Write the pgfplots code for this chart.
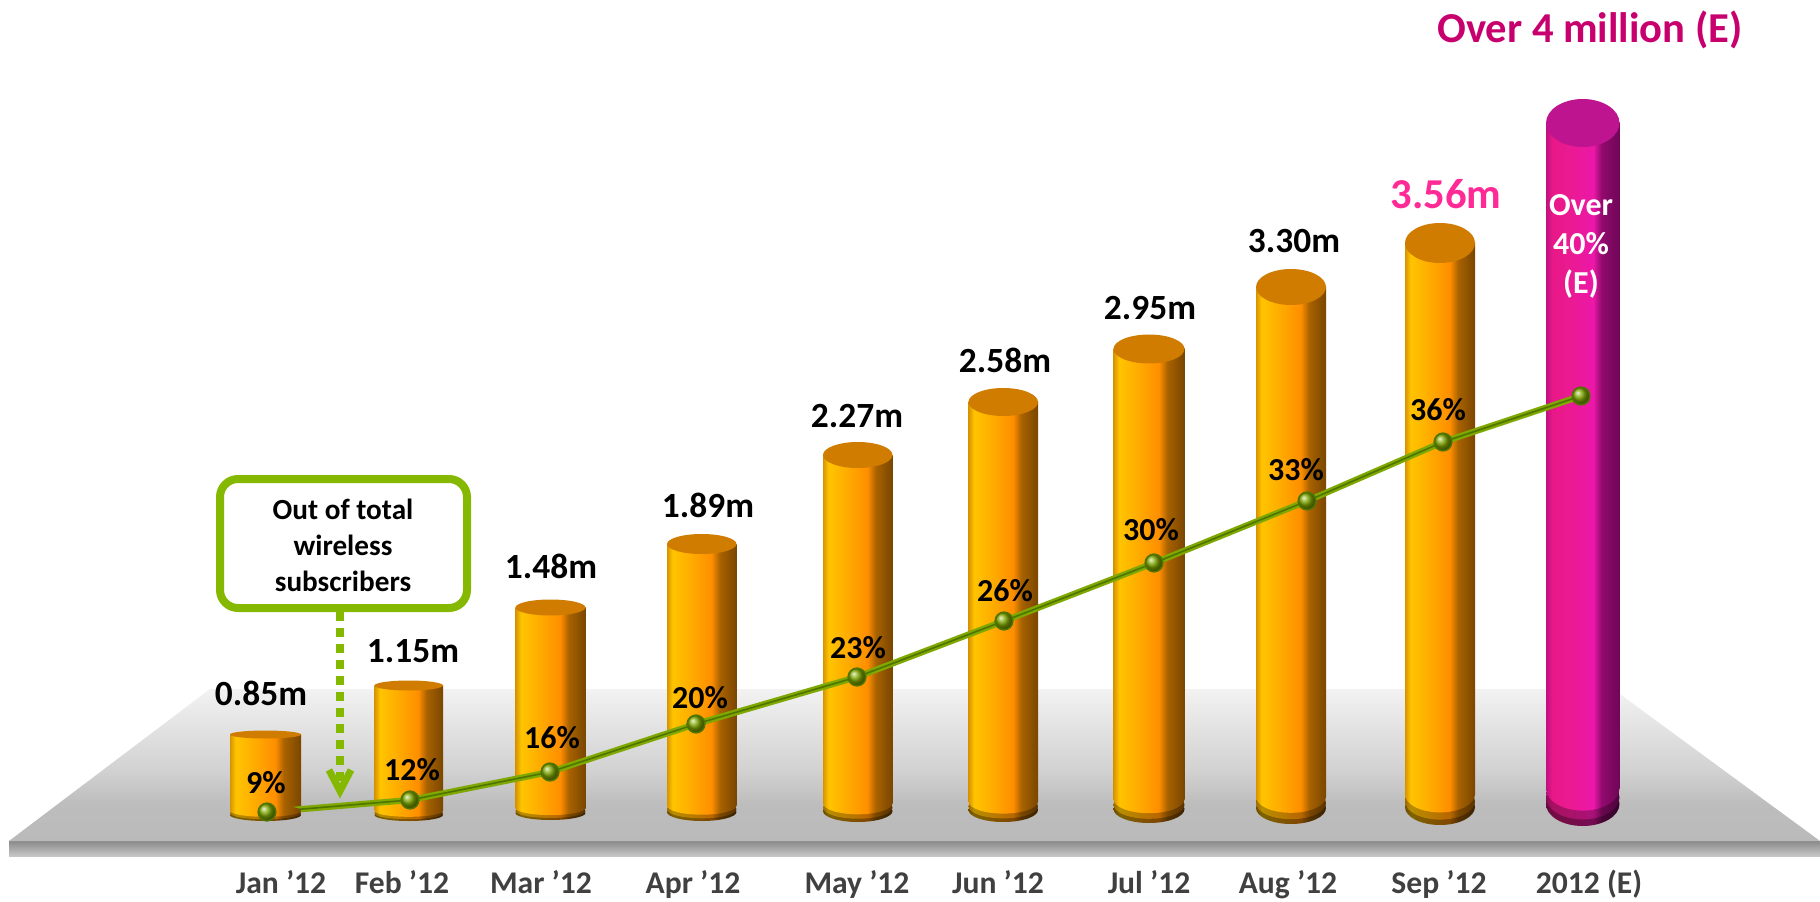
\documentclass[border=0pt]{standalone}
\usepackage{pgfplots}
\pgfplotsset{compat=1.18}
\usepackage{pgfplotstable}
\usepackage{fontspec}
\setmainfont{Carlito}
\definecolor{orgA}{HTML}{D89400}
\definecolor{orgB}{HTML}{FFC400}
\definecolor{orgC}{HTML}{FFB000}
\definecolor{orgD}{HTML}{FF8E00}
\definecolor{orgE}{HTML}{A86200}
\definecolor{orgF}{HTML}{7A4600}
\definecolor{pnkA}{HTML}{C01080}
\definecolor{pnkB}{HTML}{E81888}
\definecolor{pnkC}{HTML}{EA1A90}
\definecolor{pnkD}{HTML}{EC18A8}
\definecolor{pnkE}{HTML}{900A6C}
\definecolor{pnkF}{HTML}{6E0658}
\definecolor{orangecap}{HTML}{CF7C00}
\definecolor{pinkcap}{HTML}{BE1490}
\newcommand{\declcyl}[3]{%
 \pgfdeclarehorizontalshading{#1}{100bp}{color(0bp)=(#2A#3); color(25bp)=(#2A#3); color(29bp)=(#2B#3); color(40bp)=(#2C#3); color(57bp)=(#2D#3); color(63bp)=(#2E#3); color(75bp)=(#2F#3); color(100bp)=(#2F#3)}}
\declcyl{orangecyl}{org}{}
\declcyl{orangemidcyl}{org}{!72!black}
\declcyl{orangelowcyl}{org}{!50!black}
\declcyl{pinkcyl}{pnk}{}
\declcyl{pinkmidcyl}{pnk}{!72!black}
\declcyl{pinklowcyl}{pnk}{!50!black}
\pgfdeclareverticalshading{plat}{100bp}{color(0bp)=(black!27); color(25bp)=(black!27); color(37bp)=(black!26); color(48bp)=(black!18); color(75bp)=(black!5); color(100bp)=(black!5)}
\pgfdeclareverticalshading{front}{100bp}{color(0bp)=(black!22); color(25bp)=(black!22); color(75bp)=(black!46); color(100bp)=(black!46)}
\pgfdeclareplotmark{capflat}{\pgfpathcircle{\pgfpointorigin}{\pgfplotmarksize}\pgfusepathqfill}
\newcommand{\declshademark}[1]{\pgfdeclareplotmark{#1}{\pgfpathcircle{\pgfpointorigin}{\pgfplotmarksize}\pgfshadepath{#1}{0}\pgfusepath{discard}}}
\declshademark{orangecyl}\declshademark{orangemidcyl}\declshademark{orangelowcyl}
\declshademark{pinkcyl}\declshademark{pinkmidcyl}\declshademark{pinklowcyl}
\definecolor{gline}{HTML}{7FA800}
\definecolor{gdark}{HTML}{4F7400}
\definecolor{gbox}{HTML}{85B800}
% #1 family, #2 left x, #3 right x, #4 top y, #5 base y, #6 top half depth, #7 base half depth
\newcommand{\cyl}[7]{%
  \addplot[draw=none, mark=#1lowcyl, mark size=1pt, mark options={xscale={(#3-#2)/4}, yscale={#7/2}}] coordinates {({(#2+#3)/2},#5)};
  \addplot[draw=none, mark=#1midcyl, mark size=1pt, mark options={xscale={(#3-#2)/4}, yscale={#7/2}}] coordinates {({(#2+#3)/2},{#5+0.3*#7})};
  \addplot[draw=none, mark=#1cyl, mark size=1pt, mark options={xscale={(#3-#2)/4}, yscale={#7/2}}] coordinates {({(#2+#3)/2},{#5+0.7*#7})};
  \addplot[draw=none, shade, shading=#1cyl] coordinates {(#2,{#5+0.7*#7}) (#3,{#5+0.7*#7}) (#3,#4) (#2,#4)} -- cycle;
  \addplot[draw=none, mark=capflat, mark size=1pt, mark options={fill=#1cap, xscale={(#3-#2)/4}, yscale={#6/2}}] coordinates {({(#2+#3)/2},#4)};
}
\pgfplotstableread{
x   y
267 89
410 101
550 129
696 177
857 224
1004 280
1154 338
1307 400
1443 459
1581 505
}\sharedata
\pgfplotstableread{
x y label
261 208 0.85m
413 250 1.15m
551 335 1.48m
708 396 1.89m
857 485 2.27m
1005 541 2.58m
1150 593 2.95m
1294 660 3.30m
}\subsdata
\pgfplotstableread{
x y label
266 118 9\%
412 131 12\%
552 163 16\%
700 203 20\%
858 253 23\%
1005 310 26\%
1151 371 30\%
1296 431 33\%
1438 491 36\%
}\pctdata
\begin{document}
\begin{tikzpicture}[x=1pt,y=1pt]
\useasboundingbox (0,0) rectangle (910,450.5);
\begin{axis}[
  at={(0,0)}, anchor=origin,
  x=0.5pt, y=0.5pt,
  xmin=0, xmax=1820, ymin=0, ymax=901,
  scale only axis, clip=false,
  axis x line=bottom, axis y line=none,
  axis line style={draw=none},
  major tick length=0pt,
  ytick=\empty,
  xtick={281,402,541,693,857,998,1149,1288,1439,1589},
  xticklabels={Jan '12,Feb '12,Mar '12,Apr '12,May '12,Jun '12,Jul '12,Aug '12,Sep '12,2012 (E)},
  xticklabel style={anchor=base, yshift=3.7pt, text=black!75, font=\fontsize{15.8}{17}\selectfont\bfseries},
  tick label style={/pgf/number format/assume math mode=true},
]
% platform
\addplot[draw=none, shade, shading=front] coordinates {(9,45) (1820,45) (1820,60) (9,60)} -- cycle;
\addplot[draw=none, shade, shading=plat] coordinates {(9,60) (1820,60) (1613,212) (210,212)} -- cycle;
% cylinders
\cyl{orange}{230}{301}{166.5}{86}{4}{6}
\cyl{orange}{374.5}{443}{215.5}{86}{5}{6}
\cyl{orange}{515.5}{585.5}{293.5}{88}{8}{7}
\cyl{orange}{667}{736.5}{357}{89}{10}{9}
\cyl{orange}{823}{892.5}{446}{90}{13}{11}
\cyl{orange}{968.5}{1038}{499}{91}{14}{12}
\cyl{orange}{1113.5}{1184.5}{552}{92}{14.5}{14}
\cyl{orange}{1256}{1326}{614}{93}{18}{16}
\cyl{orange}{1405}{1475}{658}{94}{20}{18}
\cyl{pink}{1546}{1619.5}{778}{97}{24}{22}
% share line
\addplot[gline, line width=3.1pt] table[x=x,y=y] {\sharedata};
\addplot[gdark, line width=.8pt, mark=ball, mark size=4.4pt, mark options={ball color=gline}] table[x=x,y=y] {\sharedata};
% value labels
\addplot[draw=none, mark=none, point meta=explicit symbolic, nodes near coords, nodes near coords align={anchor=center},
  nodes near coords style={text=black, font=\fontsize{17.7}{19}\selectfont\bfseries}]
  table[x=x,y=y,meta=label] {\subsdata};
\addplot[draw=none, mark=none, point meta=explicit symbolic, nodes near coords, nodes near coords align={anchor=center},
  nodes near coords style={text=black, font=\fontsize{16}{18}\selectfont\bfseries}]
  table[x=x,y=y,meta=label] {\pctdata};
\node[text={rgb,255:red,255;green,42;blue,150}, font=\fontsize{21.3}{23}\selectfont\bfseries] at (axis cs:1446,707) {3.56m};
\node[text={rgb,255:red,200;green,0;blue,110}, font=\fontsize{21.3}{23}\selectfont\bfseries] at (axis cs:1590,871) {Over 4 million (E)};
\node[text=white, align=center, font=\fontsize{16}{19.5}\selectfont\bfseries] at (axis cs:1581,655) {Over\\40\%\\(E)};
% callout
\draw[gbox, line width=4pt, rounded corners=9pt, fill=white] (axis cs:220,293) rectangle (axis cs:467,422);
\node[align=center, font=\fontsize{14.6}{18}\selectfont\bfseries] at (axis cs:343,356) {Out of total\\wireless\\subscribers};
\draw[gbox, line width=4.3pt, dash pattern=on 4.5pt off 3.5pt] (axis cs:340,289) -- (axis cs:340,120);
\draw[gbox, line width=3.5pt] (axis cs:329,131) -- (axis cs:340,110) -- (axis cs:351,131);
\end{axis}
\end{tikzpicture}
\end{document}
